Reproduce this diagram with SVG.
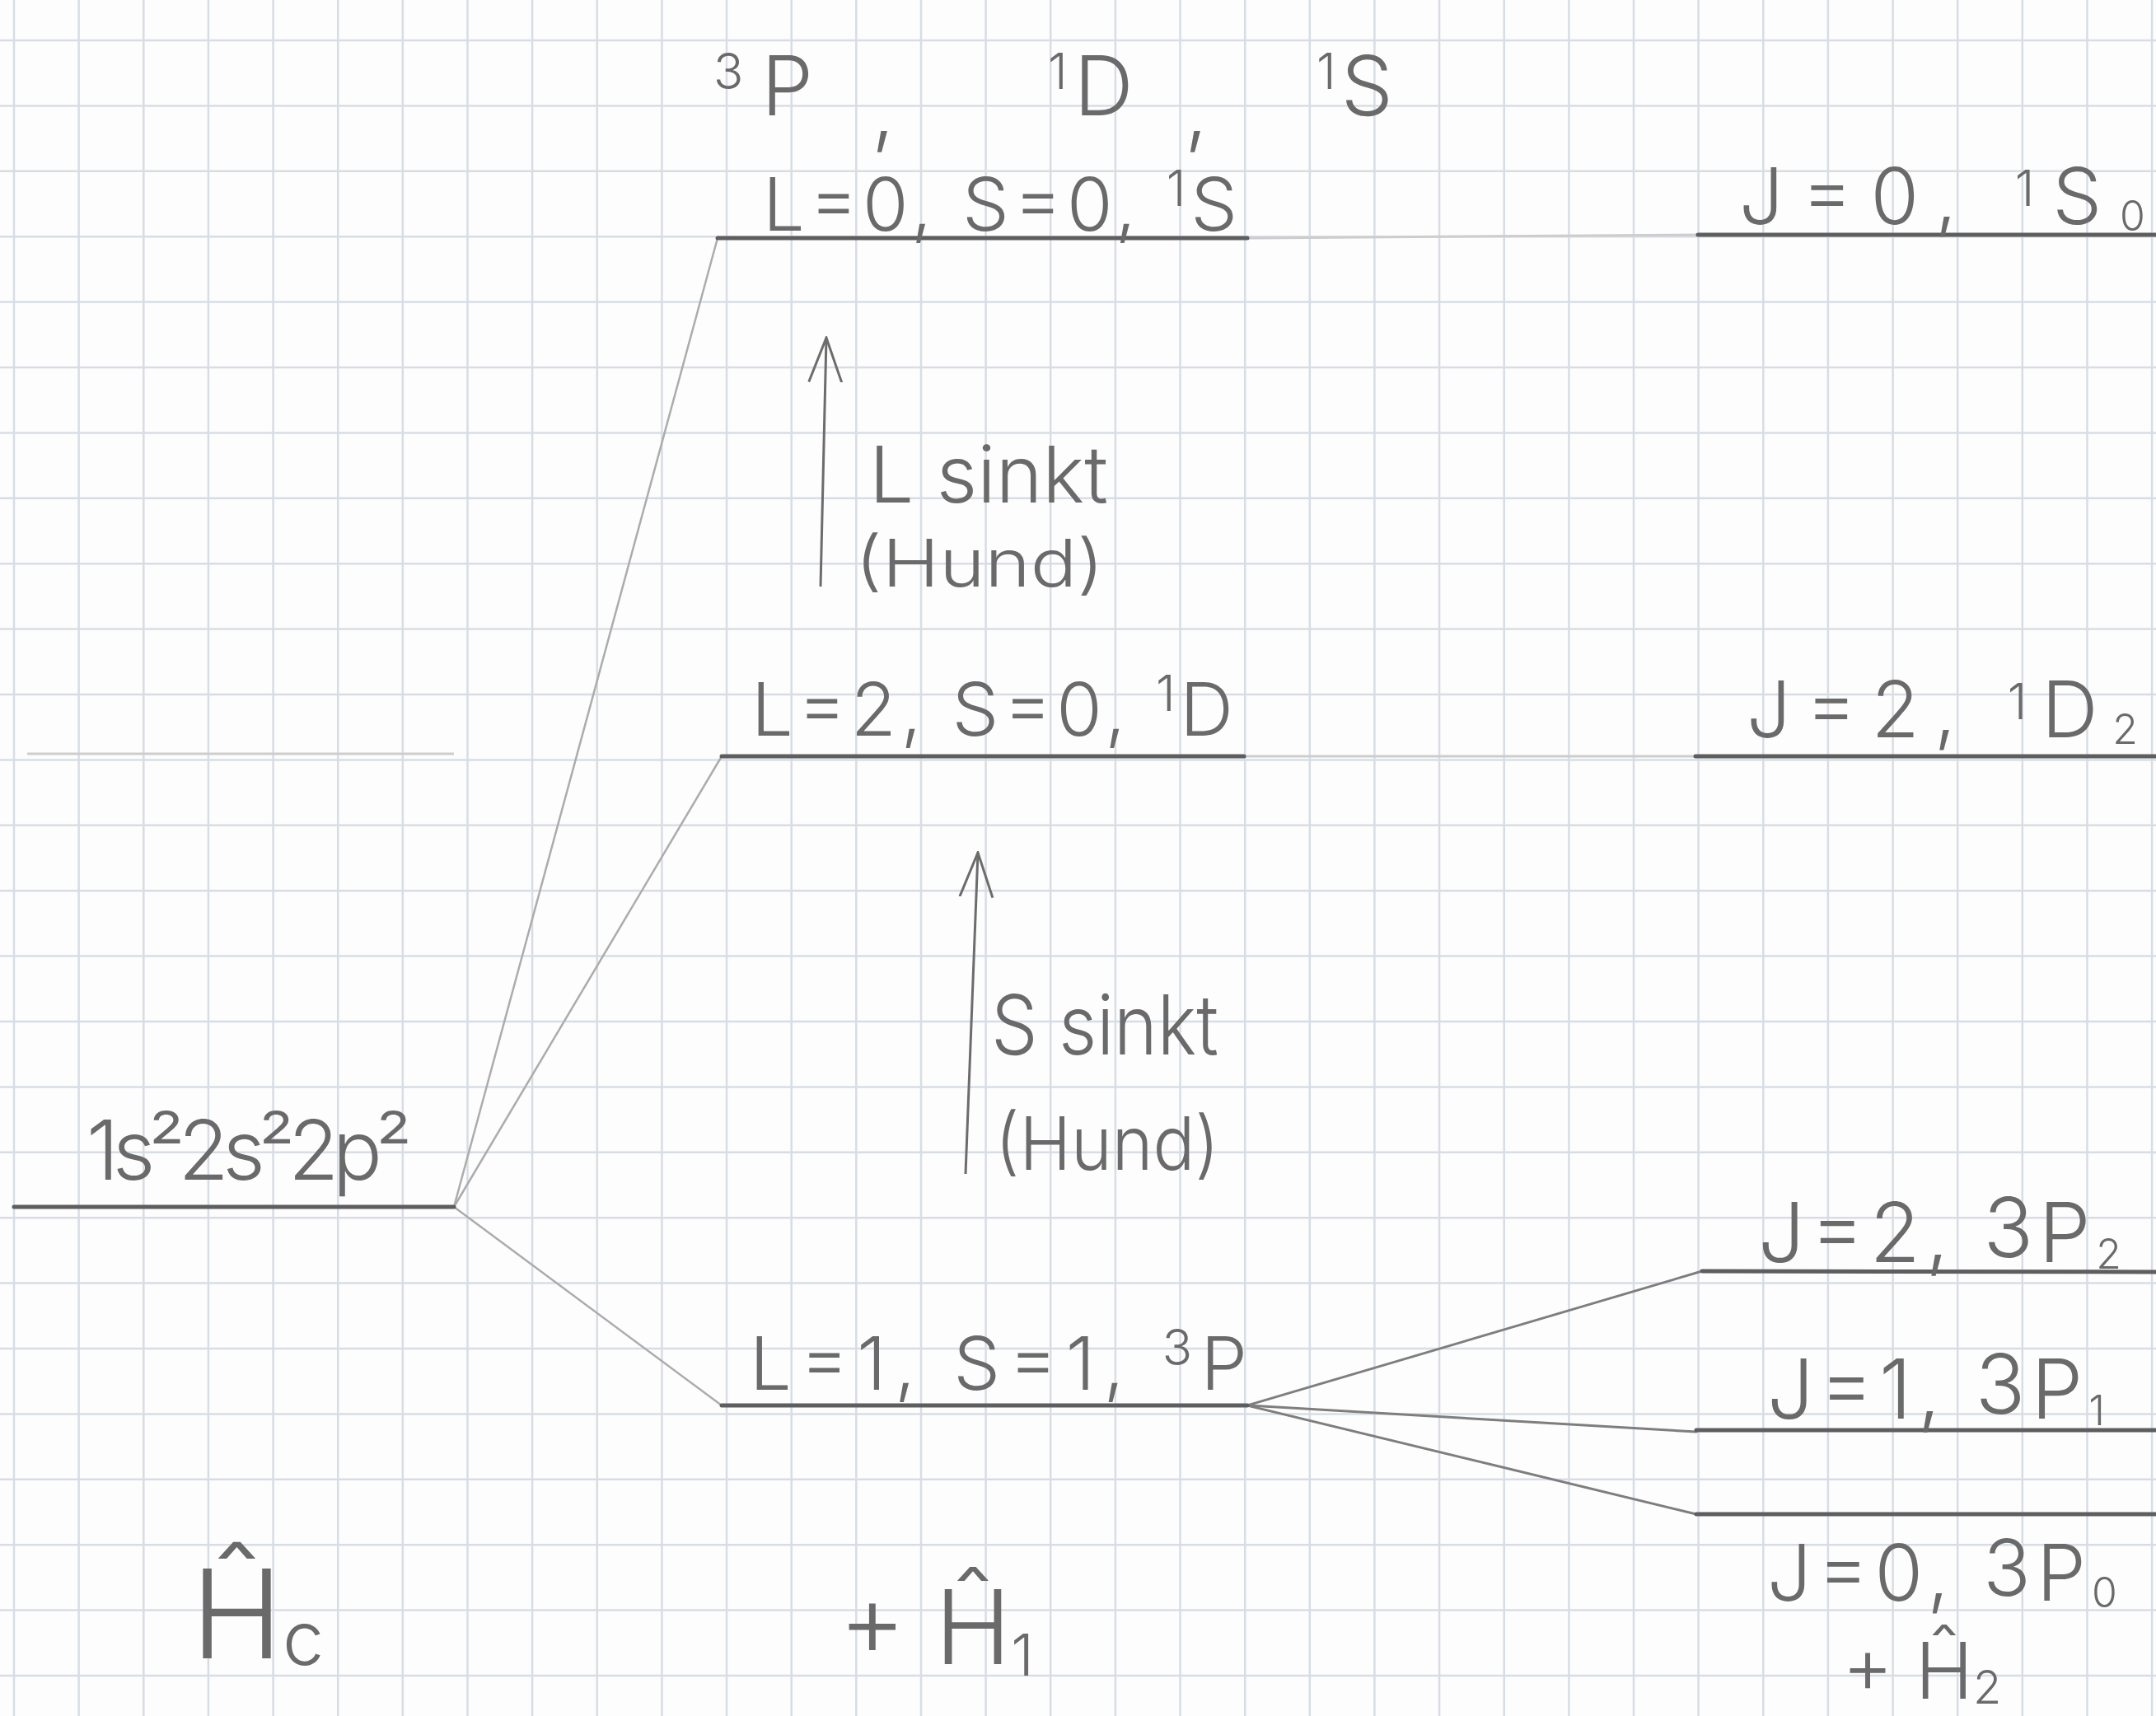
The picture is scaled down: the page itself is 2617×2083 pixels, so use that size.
<svg xmlns="http://www.w3.org/2000/svg" width="2617" height="2083" viewBox="0 0 2617 2083">
<defs>
<style>
.bg{fill:#fdfdfd}
.grid{stroke:#d8dde5;stroke-width:2.5;fill:none}
.lvl{stroke:#5e5e5e;stroke-width:5;stroke-linecap:round;fill:none}
.conn{stroke:#acacac;stroke-width:2.5;fill:none;stroke-linecap:round}
.conn2{stroke:#7e7e7e;stroke-width:3;fill:none;stroke-linecap:round}
.faint{stroke:#cdcdcd;stroke-width:3;fill:none}
.arr{stroke:#6c6c6c;stroke-width:3;fill:none}
.t{font-family:Inter,"Liberation Sans",sans-serif;font-weight:300;fill:#6a6a6a}
.lab{font-size:90px}
.sup{font-size:60px}
.sub{font-size:50px}
</style>
<marker id="ah" markerUnits="userSpaceOnUse" viewBox="0 0 56 44" refX="54" refY="22" markerWidth="56" markerHeight="44" orient="auto">
<path d="M0,2 L54,22 L0,42" fill="none" stroke="#6c6c6c" stroke-width="3"/>
</marker>
</defs>

<rect class="bg" x="0" y="0" width="2617" height="2083"/>
<g id="grid-paper">
<path class="grid" d="M17,0V2083M95.6,0V2083M174.3,0V2083M252.9,0V2083M331.6,0V2083M410.2,0V2083M488.8,0V2083M567.5,0V2083M646.1,0V2083M724.8,0V2083M803.4,0V2083M882,0V2083M960.7,0V2083M1039.3,0V2083M1118,0V2083M1196.6,0V2083M1275.2,0V2083M1353.9,0V2083M1432.5,0V2083M1511.2,0V2083M1589.8,0V2083M1668.4,0V2083M1747.1,0V2083M1825.7,0V2083M1904.4,0V2083M1983,0V2083M2061.6,0V2083M2140.3,0V2083M2218.9,0V2083M2297.6,0V2083M2376.2,0V2083M2454.8,0V2083M2533.5,0V2083M2612.1,0V2083"/>
<path class="grid" d="M0,49H2617M0,128.4H2617M0,207.8H2617M0,287.2H2617M0,366.6H2617M0,446H2617M0,525.4H2617M0,604.8H2617M0,684.2H2617M0,763.6H2617M0,843H2617M0,922.4H2617M0,1001.8H2617M0,1081.2H2617M0,1160.6H2617M0,1240H2617M0,1319.4H2617M0,1398.8H2617M0,1478.2H2617M0,1557.6H2617M0,1637H2617M0,1716.4H2617M0,1795.8H2617M0,1875.2H2617M0,1954.6H2617M0,2034H2617"/>
</g>

<g id="connectors">
<line class="conn" x1="551" y1="1465" x2="871" y2="289"/>
<line class="conn" x1="551" y1="1465" x2="876" y2="918"/>
<line class="conn" x1="551" y1="1465" x2="876" y2="1706"/>
<line class="conn2" x1="1514" y1="1706" x2="2066" y2="1543"/>
<line class="conn2" x1="1514" y1="1706" x2="2059" y2="1738"/>
<line class="conn2" x1="1514" y1="1706" x2="2059" y2="1838"/>
<line class="faint" x1="1514" y1="289" x2="2061" y2="285"/>
<line class="faint" x1="1510" y1="918" x2="2058" y2="918"/>
<line class="faint" x1="33" y1="915" x2="551" y2="915"/>
</g>

<g id="arrows">
<line class="arr" x1="996" y1="712" x2="1003" y2="410" marker-end="url(#ah)"/>
<line class="arr" x1="1172" y1="1425" x2="1187" y2="1035" marker-end="url(#ah)"/>
<text class="t" x="1055" y="610" font-size="95" textLength="290" lengthAdjust="spacingAndGlyphs">L sinkt</text>
<text class="t" x="1038" y="712" font-size="80" textLength="302" lengthAdjust="spacingAndGlyphs">(Hund)</text>
<text class="t" x="1203" y="1280" font-size="100" textLength="276" lengthAdjust="spacingAndGlyphs">S sinkt</text>
<text class="t" x="1208" y="1420" font-size="90" textLength="272" lengthAdjust="spacingAndGlyphs">(Hund)</text>
</g>

<g id="term-list">
<text class="t" x="866" y="140" font-size="100"><tspan class="sup" dy="-32">3</tspan><tspan dy="32" dx="22">P</tspan></text>
<text class="t" x="1058" y="168" font-size="100">,</text>
<text class="t" x="1272" y="140" font-size="100"><tspan class="sup" dy="-32">1</tspan><tspan dy="32" dx="8">D</tspan></text>
<text class="t" x="1438" y="168" font-size="100">,</text>
<text class="t" x="1598" y="140" font-size="100"><tspan class="sup" dy="-32">1</tspan><tspan dy="32" dx="6">S</tspan></text>
</g>

<g id="level-config">
<line class="lvl" x1="17" y1="1465" x2="551" y2="1465"/>
<text class="t" x="105" y="1432" font-size="100" textLength="395" lengthAdjust="spacing">1s²2s²2p²</text>
</g>

<g id="level-1S">
<line class="lvl" x1="871" y1="289" x2="1514" y2="289"/>
<text class="t lab" x="926" y="280" textLength="576" lengthAdjust="spacing">L=0, S=0, <tspan class="sup" dy="-30">1</tspan><tspan dy="30">S</tspan></text>
</g>

<g id="level-1D">
<line class="lvl" x1="876" y1="918" x2="1510" y2="918"/>
<text class="t lab" x="912" y="893" textLength="585" lengthAdjust="spacing">L=2, S=0, <tspan class="sup" dy="-30">1</tspan><tspan dy="30">D</tspan></text>
</g>

<g id="level-3P">
<line class="lvl" x1="876" y1="1706" x2="1514" y2="1706"/>
<text class="t lab" x="910" y="1687" textLength="604" lengthAdjust="spacing">L=1, S=1,  <tspan class="sup" dy="-30">3</tspan><tspan dy="30">P</tspan></text>
</g>

<g id="level-1S0">
<line class="lvl" x1="2061" y1="285" x2="2617" y2="285"/>
<text class="t" x="2111" y="272" font-size="95" textLength="493" lengthAdjust="spacing">J=0,  <tspan class="sup" dy="-22">1</tspan><tspan dy="22">S</tspan><tspan class="sub" dy="8">0</tspan></text>
</g>

<g id="level-1D2">
<line class="lvl" x1="2058" y1="918" x2="2617" y2="918"/>
<text class="t" x="2120" y="895" font-size="95" textLength="475" lengthAdjust="spacing">J=2,  <tspan class="sup" dy="-22">1</tspan><tspan dy="22">D</tspan><tspan class="sub" dy="8">2</tspan></text>
</g>

<g id="level-3P2">
<line class="lvl" x1="2066" y1="1543" x2="2617" y2="1544"/>
<text class="t" x="2134" y="1532" font-size="100" textLength="441" lengthAdjust="spacing">J=2,  <tspan dy="-6">3</tspan><tspan dy="6">P</tspan><tspan class="sub" dy="8">2</tspan></text>
</g>

<g id="level-3P1">
<line class="lvl" x1="2059" y1="1736" x2="2617" y2="1736"/>
<text class="t" x="2145" y="1722" font-size="100" textLength="410" lengthAdjust="spacing">J=1,  <tspan dy="-6">3</tspan><tspan dy="6">P</tspan><tspan class="sub" dy="8">1</tspan></text>
</g>

<g id="level-3P0">
<line class="lvl" x1="2059" y1="1838" x2="2617" y2="1838"/>
<text class="t" x="2145" y="1943" font-size="95" textLength="425" lengthAdjust="spacing">J=0,  <tspan dy="-6">3</tspan><tspan dy="6">P</tspan><tspan class="sub" dy="8">0</tspan></text>
</g>

<g id="hamiltonians">
<text class="t" x="232" y="2013" font-size="150">Ĥ<tspan font-size="90" dy="8">c</tspan></text>
<text class="t" x="1018" y="2020" font-size="125">+ Ĥ<tspan font-size="70" dy="14">1</tspan></text>
<text class="t" x="2236" y="2062" font-size="95">+ Ĥ<tspan font-size="56" dy="6">2</tspan></text>
</g>
</svg>
